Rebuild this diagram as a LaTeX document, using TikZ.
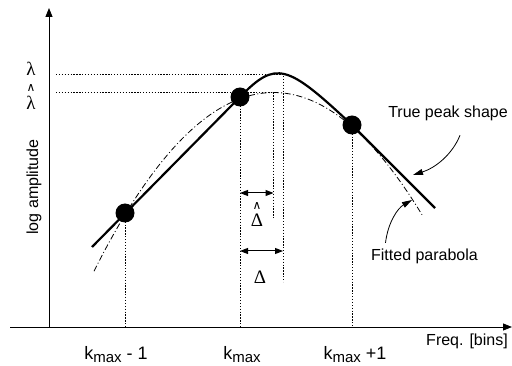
\documentclass[tikz,border=0pt]{standalone}
\usepackage{fontspec}
\setmainfont{Liberation Sans}
\newfontfamily\greekfont{Liberation Serif}
\newfontfamily\caretfont{DejaVu Sans}
\usetikzlibrary{arrows.meta}
\newcommand{\kmax}{k\raisebox{-2.5pt}{\fontsize{15}{17}\selectfont max}}
\newcommand{\caretover}[1]{\shortstack{{\caretfont\fontsize{12}{12}\selectfont ∧}\\[1.5pt]#1}}

\begin{document}
\begin{tikzpicture}[
    x=1pt, y=-1pt,
    every node/.style={font=\fontsize{16}{19}\selectfont},
    axis/.style={line width=0.9pt, -{Triangle[length=9pt,width=7pt]}},
    guide/.style={line width=0.9pt, dash pattern=on 1.3pt off 1.6pt},
    dot/.style={circle, fill=black, inner sep=0pt, minimum size=19pt},
    truecurve/.style={line width=2.2pt},
    fitcurve/.style={line width=0.8pt, dash pattern=on 6pt off 2.5pt on 1pt off 2.5pt},
    dim/.style={line width=1pt, {Triangle[length=8pt,width=6pt]}-{Triangle[length=8pt,width=6pt]}},
    callout/.style={line width=0.8pt, -{Triangle[length=10pt,width=6pt]}},
    greek/.style={font=\greekfont\fontsize{19}{21}\selectfont, inner sep=0pt},
    binlbl/.style={font=\fontsize{18}{21}\selectfont, anchor=base},
]
\useasboundingbox (0,0) rectangle (512,366);
% Axes
\coordinate (o) at (49,327);
\draw[axis] (o) -- (49,8);
\draw[axis] (10,327) -- (512,327);
\begin{scope}[shift={(34,187)}, rotate=90, transform shape]
  \node (ylbl) at (0,0) {log amplitude};
\end{scope}
\node[anchor=base] (xlbl) at (467,345) {Freq. [bins]};
% Bin samples
\node[dot] (kl) at (125,213) {};
\node[dot] (kc) at (240,97)  {};
\node[dot] (kr) at (352,125) {};
\draw[guide] (kl.center) -- (kl |- o);
\draw[guide] (kc.center) -- (kc |- o);
\draw[guide] (kr.center) -- (kr |- o);
\node[binlbl] (bl) at (116,360) {\kmax{} - 1};
\node[binlbl] (bc) at (242,360) {\kmax};
\node[binlbl] (br) at (355,360) {\kmax{} +1};
% True and fitted peaks
\coordinate (pk) at (283,74);
\coordinate (fp) at (273.5,92.5);
\draw[guide] (56,74) -- (pk) -- (283,282);
\draw[guide] (56,92.5) -- (fp) -- (273.5,220);
\node[greek] (lam)    at (31,69) {λ};
\node[greek] (lamhat) at (31,97) {\caretover{λ}};
% Curves
\coordinate (tl) at (92,247);
\coordinate (tr) at (435,208);
\draw[truecurve] (tl) -- (kc.center) .. controls (276,60) and (287,64) .. (kr.center) -- (tr);
\draw[fitcurve] plot[domain=-1.46:1.82, samples=80, smooth]
  ({240+100*\x}, {92.5+55.45*(\x-0.335)*(\x-0.335)});
% Offsets
\draw[dim] (240,193) -- (273.5,193);
\node[greek] (dhat) at (257,215) {\caretover{Δ}};
\draw[dim] (240,251) -- (283,251);
\node[greek] (dlt) at (260,277) {Δ};
% Callouts
\node[anchor=base] (truelbl) at (448,117.5) {True peak shape};
\coordinate (truetip) at (413,175);
\draw[callout] ([xshift=12pt,yshift=-11pt]truelbl.south) .. controls (452,155) and (435,168) .. (truetip);
\node[anchor=base] (fitlbl) at (424.5,261) {Fitted parabola};
\coordinate (fittip) at (412,200);
\draw[callout] ([xshift=-39pt,yshift=3pt]fitlbl.north) .. controls (388,222) and (398,208) .. (fittip);
\end{tikzpicture}
\end{document}
